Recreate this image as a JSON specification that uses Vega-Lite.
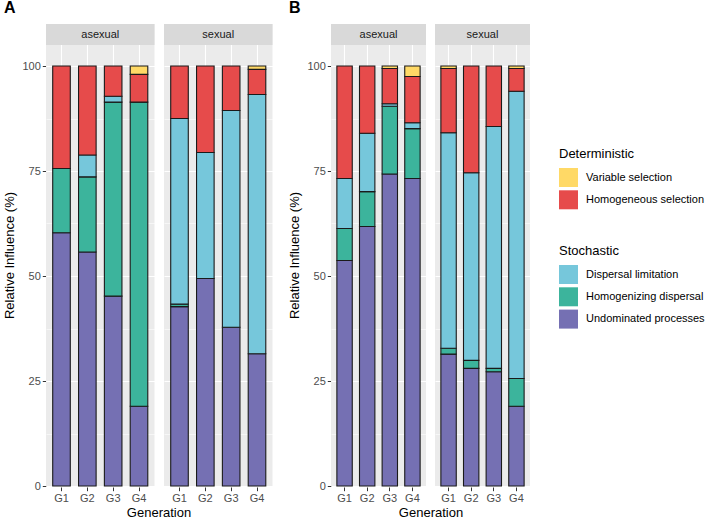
{
  "$schema": "https://vega.github.io/schema/vega-lite/v6.json",
  "padding": {"left": 3, "top": 0, "right": 0, "bottom": 0},
  "datasets": {
    "d": [
      {"panel": "A", "sex": "asexual", "gen": "G1", "comp": "Undominated processes", "ord": 1, "value": 60.3},
      {"panel": "A", "sex": "asexual", "gen": "G1", "comp": "Homogenizing dispersal", "ord": 2, "value": 15.3},
      {"panel": "A", "sex": "asexual", "gen": "G1", "comp": "Homogeneous selection", "ord": 4, "value": 24.4},
      {"panel": "A", "sex": "asexual", "gen": "G2", "comp": "Undominated processes", "ord": 1, "value": 55.7},
      {"panel": "A", "sex": "asexual", "gen": "G2", "comp": "Homogenizing dispersal", "ord": 2, "value": 17.9},
      {"panel": "A", "sex": "asexual", "gen": "G2", "comp": "Dispersal limitation", "ord": 3, "value": 5.2},
      {"panel": "A", "sex": "asexual", "gen": "G2", "comp": "Homogeneous selection", "ord": 4, "value": 21.2},
      {"panel": "A", "sex": "asexual", "gen": "G3", "comp": "Undominated processes", "ord": 1, "value": 45.2},
      {"panel": "A", "sex": "asexual", "gen": "G3", "comp": "Homogenizing dispersal", "ord": 2, "value": 46.2},
      {"panel": "A", "sex": "asexual", "gen": "G3", "comp": "Dispersal limitation", "ord": 3, "value": 1.4},
      {"panel": "A", "sex": "asexual", "gen": "G3", "comp": "Homogeneous selection", "ord": 4, "value": 7.2},
      {"panel": "A", "sex": "asexual", "gen": "G4", "comp": "Undominated processes", "ord": 1, "value": 19.0},
      {"panel": "A", "sex": "asexual", "gen": "G4", "comp": "Homogenizing dispersal", "ord": 2, "value": 72.4},
      {"panel": "A", "sex": "asexual", "gen": "G4", "comp": "Homogeneous selection", "ord": 4, "value": 6.6},
      {"panel": "A", "sex": "asexual", "gen": "G4", "comp": "Variable selection", "ord": 5, "value": 2.0},
      {"panel": "A", "sex": "sexual", "gen": "G1", "comp": "Undominated processes", "ord": 1, "value": 42.7},
      {"panel": "A", "sex": "sexual", "gen": "G1", "comp": "Homogenizing dispersal", "ord": 2, "value": 0.6},
      {"panel": "A", "sex": "sexual", "gen": "G1", "comp": "Dispersal limitation", "ord": 3, "value": 44.2},
      {"panel": "A", "sex": "sexual", "gen": "G1", "comp": "Homogeneous selection", "ord": 4, "value": 12.5},
      {"panel": "A", "sex": "sexual", "gen": "G2", "comp": "Undominated processes", "ord": 1, "value": 49.4},
      {"panel": "A", "sex": "sexual", "gen": "G2", "comp": "Dispersal limitation", "ord": 3, "value": 30.0},
      {"panel": "A", "sex": "sexual", "gen": "G2", "comp": "Homogeneous selection", "ord": 4, "value": 20.6},
      {"panel": "A", "sex": "sexual", "gen": "G3", "comp": "Undominated processes", "ord": 1, "value": 37.8},
      {"panel": "A", "sex": "sexual", "gen": "G3", "comp": "Dispersal limitation", "ord": 3, "value": 51.6},
      {"panel": "A", "sex": "sexual", "gen": "G3", "comp": "Homogeneous selection", "ord": 4, "value": 10.6},
      {"panel": "A", "sex": "sexual", "gen": "G4", "comp": "Undominated processes", "ord": 1, "value": 31.5},
      {"panel": "A", "sex": "sexual", "gen": "G4", "comp": "Dispersal limitation", "ord": 3, "value": 61.7},
      {"panel": "A", "sex": "sexual", "gen": "G4", "comp": "Homogeneous selection", "ord": 4, "value": 6.0},
      {"panel": "A", "sex": "sexual", "gen": "G4", "comp": "Variable selection", "ord": 5, "value": 0.8},
      {"panel": "B", "sex": "asexual", "gen": "G1", "comp": "Undominated processes", "ord": 1, "value": 53.7},
      {"panel": "B", "sex": "asexual", "gen": "G1", "comp": "Homogenizing dispersal", "ord": 2, "value": 7.6},
      {"panel": "B", "sex": "asexual", "gen": "G1", "comp": "Dispersal limitation", "ord": 3, "value": 11.9},
      {"panel": "B", "sex": "asexual", "gen": "G1", "comp": "Homogeneous selection", "ord": 4, "value": 26.8},
      {"panel": "B", "sex": "asexual", "gen": "G2", "comp": "Undominated processes", "ord": 1, "value": 61.8},
      {"panel": "B", "sex": "asexual", "gen": "G2", "comp": "Homogenizing dispersal", "ord": 2, "value": 8.3},
      {"panel": "B", "sex": "asexual", "gen": "G2", "comp": "Dispersal limitation", "ord": 3, "value": 13.9},
      {"panel": "B", "sex": "asexual", "gen": "G2", "comp": "Homogeneous selection", "ord": 4, "value": 16.0},
      {"panel": "B", "sex": "asexual", "gen": "G3", "comp": "Undominated processes", "ord": 1, "value": 74.3},
      {"panel": "B", "sex": "asexual", "gen": "G3", "comp": "Homogenizing dispersal", "ord": 2, "value": 16.1},
      {"panel": "B", "sex": "asexual", "gen": "G3", "comp": "Dispersal limitation", "ord": 3, "value": 0.6},
      {"panel": "B", "sex": "asexual", "gen": "G3", "comp": "Homogeneous selection", "ord": 4, "value": 8.4},
      {"panel": "B", "sex": "asexual", "gen": "G3", "comp": "Variable selection", "ord": 5, "value": 0.6},
      {"panel": "B", "sex": "asexual", "gen": "G4", "comp": "Undominated processes", "ord": 1, "value": 73.2},
      {"panel": "B", "sex": "asexual", "gen": "G4", "comp": "Homogenizing dispersal", "ord": 2, "value": 11.9},
      {"panel": "B", "sex": "asexual", "gen": "G4", "comp": "Dispersal limitation", "ord": 3, "value": 1.4},
      {"panel": "B", "sex": "asexual", "gen": "G4", "comp": "Homogeneous selection", "ord": 4, "value": 11.0},
      {"panel": "B", "sex": "asexual", "gen": "G4", "comp": "Variable selection", "ord": 5, "value": 2.5},
      {"panel": "B", "sex": "sexual", "gen": "G1", "comp": "Undominated processes", "ord": 1, "value": 31.4},
      {"panel": "B", "sex": "sexual", "gen": "G1", "comp": "Homogenizing dispersal", "ord": 2, "value": 1.4},
      {"panel": "B", "sex": "sexual", "gen": "G1", "comp": "Dispersal limitation", "ord": 3, "value": 51.3},
      {"panel": "B", "sex": "sexual", "gen": "G1", "comp": "Homogeneous selection", "ord": 4, "value": 15.3},
      {"panel": "B", "sex": "sexual", "gen": "G1", "comp": "Variable selection", "ord": 5, "value": 0.6},
      {"panel": "B", "sex": "sexual", "gen": "G2", "comp": "Undominated processes", "ord": 1, "value": 28.0},
      {"panel": "B", "sex": "sexual", "gen": "G2", "comp": "Homogenizing dispersal", "ord": 2, "value": 1.9},
      {"panel": "B", "sex": "sexual", "gen": "G2", "comp": "Dispersal limitation", "ord": 3, "value": 44.7},
      {"panel": "B", "sex": "sexual", "gen": "G2", "comp": "Homogeneous selection", "ord": 4, "value": 25.4},
      {"panel": "B", "sex": "sexual", "gen": "G3", "comp": "Undominated processes", "ord": 1, "value": 27.2},
      {"panel": "B", "sex": "sexual", "gen": "G3", "comp": "Homogenizing dispersal", "ord": 2, "value": 0.8},
      {"panel": "B", "sex": "sexual", "gen": "G3", "comp": "Dispersal limitation", "ord": 3, "value": 57.6},
      {"panel": "B", "sex": "sexual", "gen": "G3", "comp": "Homogeneous selection", "ord": 4, "value": 14.4},
      {"panel": "B", "sex": "sexual", "gen": "G4", "comp": "Undominated processes", "ord": 1, "value": 19.0},
      {"panel": "B", "sex": "sexual", "gen": "G4", "comp": "Homogenizing dispersal", "ord": 2, "value": 6.6},
      {"panel": "B", "sex": "sexual", "gen": "G4", "comp": "Dispersal limitation", "ord": 3, "value": 68.4},
      {"panel": "B", "sex": "sexual", "gen": "G4", "comp": "Homogeneous selection", "ord": 4, "value": 5.4},
      {"panel": "B", "sex": "sexual", "gen": "G4", "comp": "Variable selection", "ord": 5, "value": 0.6}
    ]
  },
  "spacing": 15,
  "hconcat": [
    {
      "data": {"name": "d"},
      "transform": [
        {"filter": "datum.panel === 'A'"},
        {"stack": "value", "groupby": ["sex", "gen"], "sort": [{"field": "ord", "order": "ascending"}], "as": ["y0", "y1"]}
      ],
      "title": {"text": "A", "anchor": "start", "frame": "bounds", "fontSize": 16, "fontWeight": "bold", "color": "black", "offset": 8},
      "spacing": 9,
      "facet": {"column": {"field": "sex", "type": "nominal", "title": "Generation", "header": {"labels": false, "labelPadding": 0, "titleOrient": "bottom", "titleFontSize": 13, "titleFontWeight": "normal", "titleColor": "black", "titlePadding": -7}}},
      "spec": {
        "width": 108.5,
        "height": 462,
        "layer": [
          {
            "transform": [{"filter": "datum.ord <= 3"}],
            "mark": {"type": "bar", "stroke": "#1a1a1a", "strokeWidth": 1.1},
            "encoding": {
              "x": {"field": "gen", "type": "nominal", "title": null, "scale": {"paddingInner": 0.32, "paddingOuter": 0.26}, "axis": {"labelAngle": 0, "bandPosition": 0.5, "grid": true, "gridWidth": 1.1}},
              "y": {"field": "y0", "type": "quantitative", "title": "Relative Influence (%)", "scale": {"domain": [0, 110], "nice": false}, "axis": {"values": [0, 12.5, 25, 37.5, 50, 62.5, 75, 87.5, 100], "labelExpr": "datum.value % 25 === 0 ? datum.label : ''", "tickOpacity": {"condition": {"test": "datum.value % 25 !== 0", "value": 0}, "value": 1}, "gridWidth": {"condition": {"test": "datum.value % 25 !== 0", "value": 0.55}, "value": 1.1}}},
              "y2": {"field": "y1"},
              "fill": {"field": "comp", "type": "nominal", "title": "Stochastic", "scale": {"domain": ["Dispersal limitation", "Homogenizing dispersal", "Undominated processes"], "range": ["#76C7DB", "#3CB49C", "#7570B3"]}, "legend": {"orient": "none", "legendX": 513, "legendY": 221}}
            }
          },
          {
            "transform": [{"filter": "datum.ord >= 4"}],
            "mark": {"type": "bar", "stroke": "#1a1a1a", "strokeWidth": 1.1},
            "encoding": {
              "x": {"field": "gen", "type": "nominal"},
              "y": {"field": "y0", "type": "quantitative"},
              "y2": {"field": "y1"},
              "color": {"field": "comp", "type": "nominal", "title": "Deterministic", "scale": {"domain": ["Variable selection", "Homogeneous selection"], "range": ["#FFD966", "#E64B4B"]}, "legend": {"orient": "none", "legendX": 513, "legendY": 124}}
            }
          },
          {
            "transform": [{"filter": "datum.gen === 'G1' && datum.ord === 1"}],
            "mark": {"type": "rect", "color": "#D9D9D9"},
            "encoding": {"y": {"datum": 105, "type": "quantitative"}, "y2": {"datum": 110}}
          },
          {
            "transform": [{"filter": "datum.gen === 'G1' && datum.ord === 1"}],
            "mark": {"type": "text", "fontSize": 11, "color": "#1A1A1A"},
            "encoding": {"y": {"datum": 107.5, "type": "quantitative"}, "text": {"field": "sex"}}
          }
        ]
      }
    },
    {
      "data": {"name": "d"},
      "transform": [
        {"filter": "datum.panel === 'B'"},
        {"stack": "value", "groupby": ["sex", "gen"], "sort": [{"field": "ord", "order": "ascending"}], "as": ["y0", "y1"]}
      ],
      "title": {"text": "B", "anchor": "start", "frame": "bounds", "fontSize": 16, "fontWeight": "bold", "color": "black", "offset": 8},
      "spacing": 9,
      "facet": {"column": {"field": "sex", "type": "nominal", "title": "Generation", "header": {"labels": false, "labelPadding": 0, "titleOrient": "bottom", "titleFontSize": 13, "titleFontWeight": "normal", "titleColor": "black", "titlePadding": -7}}},
      "spec": {
        "width": 95,
        "height": 462,
        "layer": [
          {
            "transform": [{"filter": "datum.ord <= 3"}],
            "mark": {"type": "bar", "stroke": "#1a1a1a", "strokeWidth": 1.1},
            "encoding": {
              "x": {"field": "gen", "type": "nominal", "title": null, "scale": {"paddingInner": 0.32, "paddingOuter": 0.26}, "axis": {"labelAngle": 0, "bandPosition": 0.5, "grid": true, "gridWidth": 1.1}},
              "y": {"field": "y0", "type": "quantitative", "title": "Relative Influence (%)", "scale": {"domain": [0, 110], "nice": false}, "axis": {"values": [0, 12.5, 25, 37.5, 50, 62.5, 75, 87.5, 100], "labelExpr": "datum.value % 25 === 0 ? datum.label : ''", "tickOpacity": {"condition": {"test": "datum.value % 25 !== 0", "value": 0}, "value": 1}, "gridWidth": {"condition": {"test": "datum.value % 25 !== 0", "value": 0.55}, "value": 1.1}}},
              "y2": {"field": "y1"},
              "fill": {"field": "comp", "type": "nominal", "title": "Stochastic", "scale": {"domain": ["Dispersal limitation", "Homogenizing dispersal", "Undominated processes"], "range": ["#76C7DB", "#3CB49C", "#7570B3"]}, "legend": {"orient": "none", "legendX": 513, "legendY": 221}}
            }
          },
          {
            "transform": [{"filter": "datum.ord >= 4"}],
            "mark": {"type": "bar", "stroke": "#1a1a1a", "strokeWidth": 1.1},
            "encoding": {
              "x": {"field": "gen", "type": "nominal"},
              "y": {"field": "y0", "type": "quantitative"},
              "y2": {"field": "y1"},
              "color": {"field": "comp", "type": "nominal", "title": "Deterministic", "scale": {"domain": ["Variable selection", "Homogeneous selection"], "range": ["#FFD966", "#E64B4B"]}, "legend": {"orient": "none", "legendX": 513, "legendY": 124}}
            }
          },
          {
            "transform": [{"filter": "datum.gen === 'G1' && datum.ord === 1"}],
            "mark": {"type": "rect", "color": "#D9D9D9"},
            "encoding": {"y": {"datum": 105, "type": "quantitative"}, "y2": {"datum": 110}}
          },
          {
            "transform": [{"filter": "datum.gen === 'G1' && datum.ord === 1"}],
            "mark": {"type": "text", "fontSize": 11, "color": "#1A1A1A"},
            "encoding": {"y": {"datum": 107.5, "type": "quantitative"}, "text": {"field": "sex"}}
          }
        ]
      }
    }
  ],
  "config": {
    "font": "Liberation Sans",
    "view": {"fill": "#EBEBEB", "stroke": null},
    "axis": {"domain": false, "tickColor": "#333333", "tickSize": 3.7, "labelColor": "#4D4D4D", "labelFontSize": 11, "labelPadding": 2, "gridColor": "#FFFFFF", "titleFontSize": 13, "titleFontWeight": "normal", "titleColor": "#000000", "titlePadding": 5},
    "legend": {"padding": 0, "titleFontSize": 13, "titleFontWeight": "normal", "titleColor": "#000000", "labelFontSize": 11, "labelColor": "#000000", "symbolType": "square", "symbolSize": 361, "symbolStrokeWidth": 0, "symbolOpacity": 1, "rowPadding": 3.3, "labelOffset": 8, "titlePadding": 7}
  }
}
